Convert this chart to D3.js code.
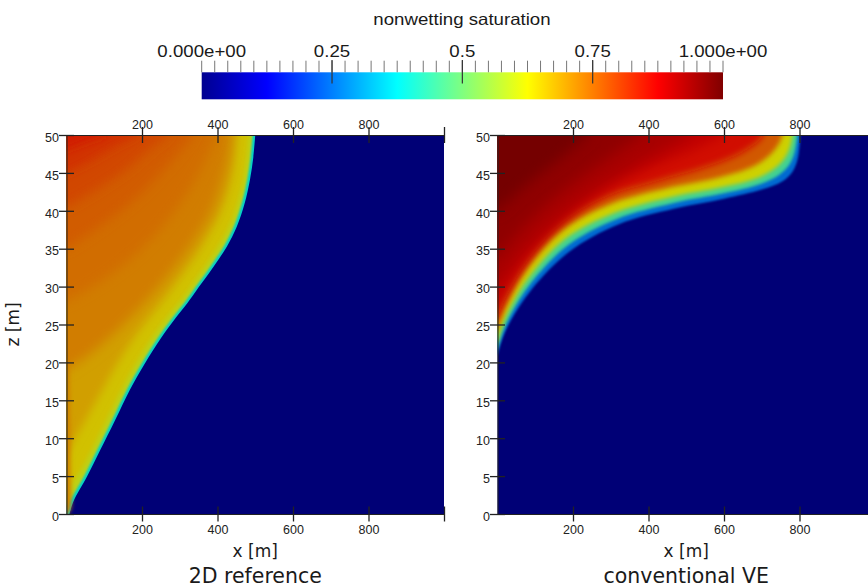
<!DOCTYPE html>
<html>
<head>
<meta charset="utf-8">
<script src="https://d3js.org/d3.v7.min.js"></script>
<style>
  body { margin: 0; background: #fff; }
  svg { display: block; }
  .axis text { font-family: "Liberation Sans", Arial, sans-serif; font-size: 12.5px; fill: #222; }
  .axis line, .axis path { stroke: #222; }
  .axis line { stroke-width: 1.3px; }
  .label { font-family: "DejaVu Sans", sans-serif; fill: #1a1a1a; text-anchor: middle; }
  .cb text { font-family: "Liberation Sans", Arial, sans-serif; font-size: 16.5px; fill: #1a1a1a; text-anchor: middle; }
</style>
</head>
<body>
<script>
// jet colour map
const jetStops  = [0, 0.125, 0.375, 0.625, 0.875, 1];
const jetColors = ["#000090", "#0000ff", "#00ffff", "#ffff00", "#ff0000", "#800000"];

// colour bar ticks
const cbTicks  = [0, 0.25, 0.5, 0.75, 1];
const cbLabels = ["0.000e+00", "0.25", "0.5", "0.75", "1.000e+00"];
const cbMajor  = [0.25, 0.5, 0.75];
const cbMinor  = [0,0.025,0.05,0.075,0.1,0.125,0.15,0.175,0.2,0.225,0.25,0.275,0.3,0.325,0.35,0.375,0.4,0.425,0.45,0.475,
                  0.5,0.525,0.55,0.575,0.6,0.625,0.65,0.675,0.7,0.725,0.75,0.775,0.8,0.825,0.85,0.875,0.9,0.925,0.95,0.975,1];

// axis ticks
const xTicks = [200, 400, 600, 800, 1000];
const zTicks = [0, 5, 10, 15, 20, 25, 30, 35, 40, 45, 50];

// 2D reference: saturation contours as [x, z] points; the saturation filled behind each and its softness
const refFront = [[8,0],[18,1.6],[54,4.9],[89,8.4],[129,12.4],[168,16.4],[208,19.9],[250,23.2],[288,25.8],[320,27.8],[350,29.9],[389,32.6],[425,35.3],[451,37.9],[472,41],[486,44.1],[495,47.1],[500,50]];
const refS58  = [[0,1],[12,2],[47,5],[82,8.5],[122,12.5],[161,16.5],[201,20],[243,23.3],[281,25.9],[313,27.9],[343,30],[382,32.7],[418,35.4],[444,38],[465,41.1],[479,44.2],[488,47.2],[493,50]];
const refS63  = [[0,3],[35,5.5],[72,9],[112,13],[152,17],[192,20.5],[234,23.8],[272,26.3],[305,28.3],[335,30.4],[373,33.1],[408,35.8],[434,38.3],[455,41.3],[469,44.3],[478,47.2],[483,50]];
const refS67  = [[0,8],[40,11.5],[85,15.5],[130,19.5],[175,23],[220,26],[260,28.5],[300,31.2],[340,34],[375,36.8],[405,39.6],[428,42.8],[442,46],[450,50]];
const refWell = [[0,0],[10,0.5],[11,5],[10,12],[8,18],[4,23],[0,26]];
const refS71  = [[0,19],[60,21],[130,24],[200,27.5],[270,31.5],[330,35.5],[380,39.5],[410,43.5],[428,47],[435,50]];
const refS73  = [[0,28],[100,31],[200,35],[280,39.5],[340,44],[380,48],[395,50]];
const refS75  = [[0,35],[90,38],[180,41.5],[260,45.5],[320,49],[335,50]];
const refS77  = [[0,40.5],[80,42.8],[160,45.5],[230,48.5],[270,50]];
const refS79  = [[0,45],[60,46.5],[130,48.5],[190,50]];
const refS81  = [[0,48],[50,49],[105,50]];
const refContours = [refFront, refS58, refS63, refS67, refWell, refS71, refS73, refS75, refS77, refS79, refS81];
const refFill     = [0.38, 0.6, 0.645, 0.685, 0.72, 0.725, 0.745, 0.765, 0.79, 0.815, 0.84];
const refBlur     = [0.7, 1, 2, 4, 2, 6, 6, 6, 6, 5, 4];

// conventional VE
const veFront = [[0,21],[12,23],[35,25.5],[90,29.6],[190,34.6],[320,38.2],[470,40.3],[600,41.6],[700,42.8],[755,43.9],[782,45.2],[795,46.8],[800,48.5],[802,50]];
const veS30   = [[0,21.8],[12,23.8],[35,26.3],[88,30.4],[185,35.4],[315,38.9],[465,41],[600,42.3],[695,43.5],[745,44.7],[772,46],[786,47.5],[792,49],[794,50]];
const veS55   = [[0,22.8],[12,24.8],[35,27.3],[85,31.3],[180,36.3],[310,39.7],[460,41.8],[595,43.1],[688,44.3],[735,45.6],[762,47],[776,48.5],[782,50]];
const veS72   = [[0,24.2],[12,26.2],[35,28.7],[80,32.5],[170,37.4],[300,40.9],[450,43],[585,44.4],[675,45.8],[720,47.3],[745,48.8],[755,50]];
const veS83   = [[0,25.8],[15,27.8],[40,30.3],[85,33.8],[170,38.4],[290,41.9],[430,44],[560,45.9],[640,47.5],[690,49.1],[705,50]];
const veS88   = [[0,27.5],[40,31],[100,35],[180,39],[290,43],[420,46],[530,48.3],[600,50]];
const veS91   = [[0,30],[60,34],[140,38],[240,42],[360,45.7],[470,48.8],[510,50]];
const veS94   = [[0,34],[80,38.5],[170,42.5],[280,46.5],[380,50]];
const veS97   = [[0,40],[80,43.5],[170,47],[240,50]];
const veContours = [veFront, veS30, veS55, veS72, veS83, veS88, veS91, veS94, veS97];
const veFill     = [0.25, 0.45, 0.62, 0.77, 0.86, 0.895, 0.925, 0.955, 0.985];
const veBlur     = [0.9, 1.4, 2, 2.5, 3.5, 6, 7, 7, 7];

const width = 868, height = 588;
const svg = d3.select("body").append("svg").attr("width", width).attr("height", height);
const defs = svg.append("defs");

const jet = d3.scaleLinear().domain(jetStops).range(jetColors).clamp(true);
// the field pictures are shaded a little darker than the colour bar
const shade = s => { const c = d3.rgb(jet(s)); return d3.rgb(c.r * 0.82, c.g * 0.82, c.b * 0.82).toString(); };

// one blur filter per softness value
const blurs = Array.from(new Set(refBlur.concat(veBlur)));
const blurId = b => "blur" + String(b).replace(".", "_");
defs.selectAll("filter").data(blurs).join("filter")
    .attr("id", blurId)
    .attr("x", "-20%").attr("y", "-20%").attr("width", "140%").attr("height", "140%")
  .append("feGaussianBlur").attr("stdDeviation", d => d);

// ---------- colour bar ----------
const cb = d3.scaleLinear().domain([0, 1]).range([201.7, 723]);
const grad = defs.append("linearGradient").attr("id", "jet");
grad.selectAll("stop").data(jetStops).join("stop")
    .attr("offset", d => d * 100 + "%")
    .attr("stop-color", (d, i) => jetColors[i]);

const cbg = svg.append("g").attr("class", "cb");
cbg.append("rect").attr("x", cb(0)).attr("y", 72.3)
    .attr("width", cb(1) - cb(0)).attr("height", 27).attr("fill", "url(#jet)");
cbg.selectAll("line.minor").data(cbMinor).join("line")
    .attr("x1", d => cb(d)).attr("x2", d => cb(d))
    .attr("y1", 60.7).attr("y2", 72.3)
    .attr("stroke", "#777").attr("stroke-width", 1);
cbg.selectAll("line.major").data(cbMajor).join("line")
    .attr("x1", d => cb(d)).attr("x2", d => cb(d))
    .attr("y1", 60).attr("y2", 83.5)
    .attr("stroke", "#333").attr("stroke-width", 1.2);

// text in the colour bar area is stretched sideways in the original
function stretch(sel, k) {
  sel.each(function () {
    const len = this.getComputedTextLength();
    d3.select(this).attr("textLength", len * k).attr("lengthAdjust", "spacingAndGlyphs");
  });
}
cbg.selectAll("text.tl").data(cbTicks).join("text")
    .attr("x", d => cb(d)).attr("y", 56.5)
    .text((d, i) => cbLabels[i])
    .call(stretch, 1.13);
cbg.append("text").attr("x", 462).attr("y", 24.5)
    .text("nonwetting saturation")
    .call(stretch, 1.13);

// ---------- the two fields ----------
const z = d3.scaleLinear().domain([0, 50]).range([514, 135]);

function regionPath(pts, x) {
  const first = pts[0], last = pts[pts.length - 1];
  const line = d3.line().x(d => x(d[0])).y(d => z(d[1])).curve(d3.curveCatmullRom.alpha(0.5));
  const pre = first[1] <= 0 ? [[-80, -5], [first[0], -5]] : [[-80, first[1]]];
  const post = [[last[0], 56], [-80, 56]];
  const p = a => x(a[0]) + "," + z(a[1]);
  return "M" + pre.map(p).join("L") + "L" + line(pts).slice(1) + "L" + post.map(p).join("L") + "Z";
}

function panel(id, x0, contours, fills, soft, title) {
  const x = d3.scaleLinear().domain([0, 1000]).range([x0, x0 + 377.5]);

  defs.append("clipPath").attr("id", "clip-" + id)
    .append("rect").attr("x", x(0)).attr("y", z(50))
    .attr("width", x(1000) - x(0)).attr("height", z(0) - z(50));

  const field = svg.append("g").attr("clip-path", "url(#clip-" + id + ")");
  field.append("rect").attr("x", x(-50)).attr("y", z(55))
    .attr("width", x(1050) - x(-50)).attr("height", z(-5) - z(55))
    .attr("fill", shade(0));
  field.selectAll("path").data(contours).join("path")
    .attr("d", d => regionPath(d, x))
    .attr("fill", (d, i) => shade(fills[i]))
    .attr("filter", (d, i) => "url(#" + blurId(soft[i]) + ")");

  // axes
  const left = svg.append("g").attr("class", "axis")
    .attr("transform", "translate(" + x(0) + ",0)")
    .call(d3.axisLeft(z).tickValues(zTicks).tickSize(0).tickSizeOuter(0).tickPadding(7.5));
  left.selectAll(".tick line").attr("x1", -7.5).attr("x2", 7.5);
  left.selectAll(".tick text").attr("dy", "0.5em");

  const fmt = d => (d === 1000 ? "" : d);
  const top = svg.append("g").attr("class", "axis")
    .attr("transform", "translate(0," + z(50) + ")")
    .call(d3.axisTop(x).tickValues(xTicks).tickFormat(fmt).tickSize(0).tickSizeOuter(0).tickPadding(6));
  top.selectAll(".tick line").attr("y1", -8).attr("y2", 8);

  const bottom = svg.append("g").attr("class", "axis")
    .attr("transform", "translate(0," + z(0) + ")")
    .call(d3.axisBottom(x).tickValues(xTicks).tickFormat(fmt).tickSize(0).tickSizeOuter(0).tickPadding(11.5));
  bottom.selectAll(".tick line").attr("y1", -7.5).attr("y2", 7.5);

  svg.selectAll(".axis").attr("font-family", null).attr("font-size", null);

  const cx = (x(0) + x(1000)) / 2;
  svg.append("text").attr("class", "label").attr("x", cx).attr("y", 557)
    .style("font-size", "17px").text("x [m]");
  svg.append("text").attr("class", "label").attr("x", cx).attr("y", 583)
    .style("font-size", "20.5px").text(title);
}

panel("ref", 66.5, refContours, refFill, refBlur, "2D reference");
panel("ve", 497.5, veContours, veFill, veBlur, "conventional VE");

svg.append("text").attr("class", "label")
    .attr("transform", "translate(19," + (z(0) + z(50)) / 2 + ") rotate(-90)")
    .style("font-size", "17px").text("z [m]");
</script>
</body>
</html>
